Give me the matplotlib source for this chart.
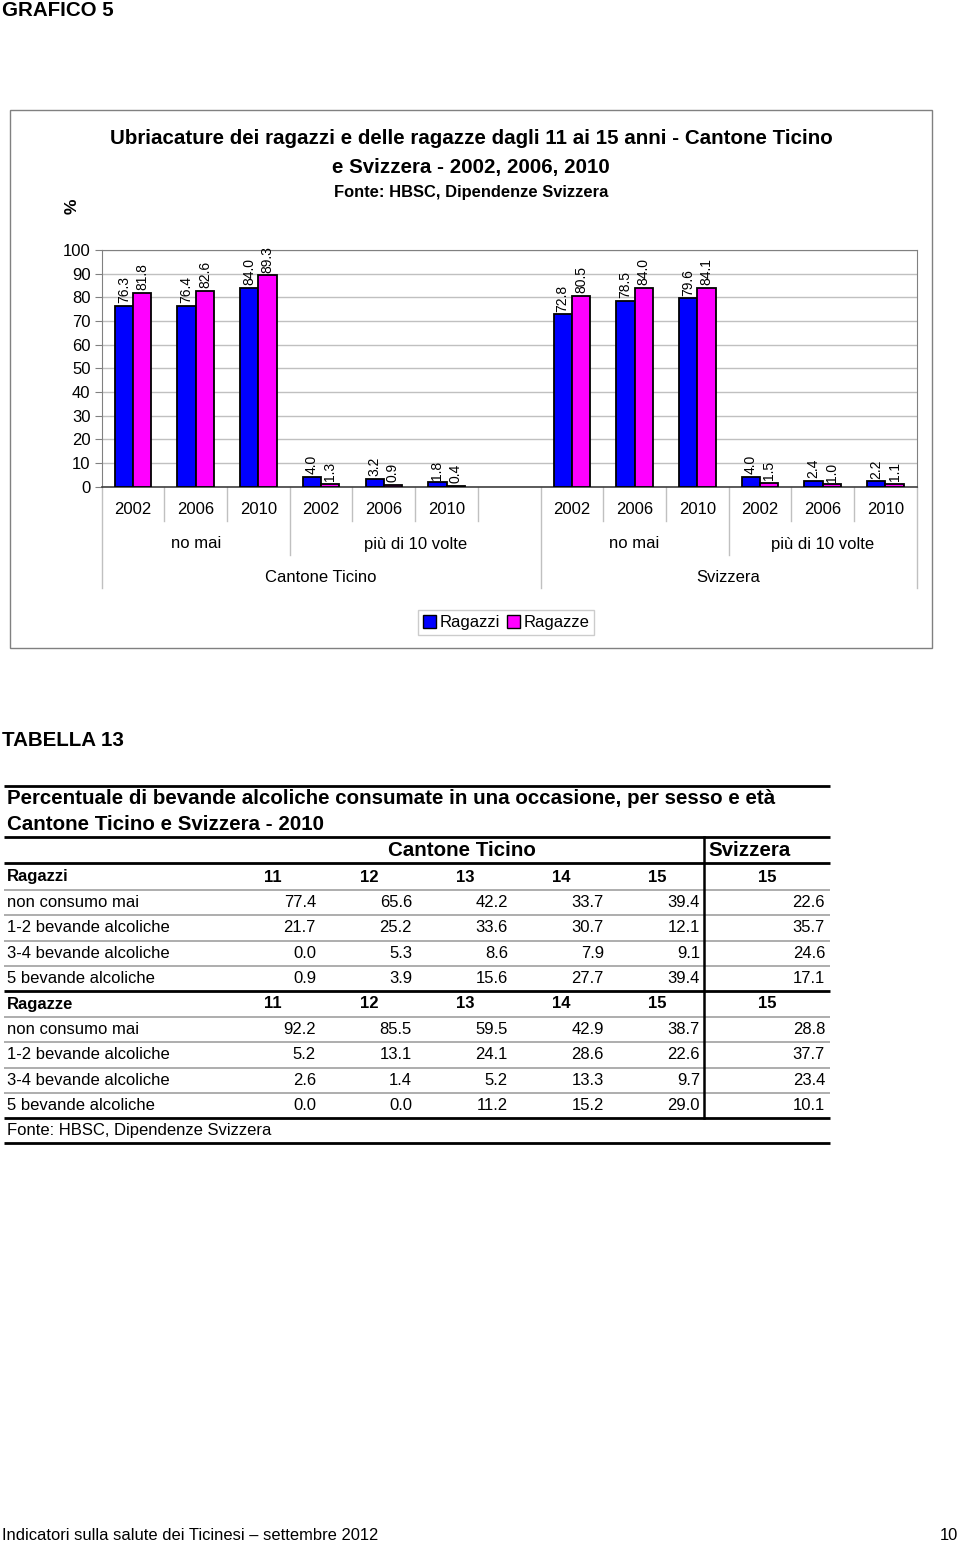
import numpy as np
import matplotlib
matplotlib.use('Agg')
import matplotlib.pyplot as plt
from matplotlib.patches import Rectangle, Patch
from matplotlib.lines import Line2D
import matplotlib.transforms as mtransforms

plt.rcParams['font.family'] = ['Liberation Sans', 'DejaVu Sans']

# dati del grafico
anni = ['2002', '2006', '2010']
frequenze = ['no mai', 'più di 10 volte']
regioni = ['Cantone Ticino', 'Svizzera']
ti_nomai_ragazzi = [76.3, 76.4, 84.0]
ti_nomai_ragazze = [81.8, 82.6, 89.3]
ti_piu10_ragazzi = [4.0, 3.2, 1.8]
ti_piu10_ragazze = [1.3, 0.9, 0.4]
ch_nomai_ragazzi = [72.8, 78.5, 79.6]
ch_nomai_ragazze = [80.5, 84.0, 84.1]
ch_piu10_ragazzi = [4.0, 2.4, 2.2]
ch_piu10_ragazze = [1.5, 1.0, 1.1]

# dati della tabella
eta = ['11', '12', '13', '14', '15']
eta_ch = '15'
righe = ['non consumo mai', '1-2 bevande alcoliche', '3-4 bevande alcoliche', '5 bevande alcoliche']
ragazzi_ti = [[77.4, 65.6, 42.2, 33.7, 39.4],
              [21.7, 25.2, 33.6, 30.7, 12.1],
              [0.0, 5.3, 8.6, 7.9, 9.1],
              [0.9, 3.9, 15.6, 27.7, 39.4]]
ragazzi_ch = [22.6, 35.7, 24.6, 17.1]
ragazze_ti = [[92.2, 85.5, 59.5, 42.9, 38.7],
              [5.2, 13.1, 24.1, 28.6, 22.6],
              [2.6, 1.4, 5.2, 13.3, 9.7],
              [0.0, 0.0, 11.2, 15.2, 29.0]]
ragazze_ch = [28.8, 37.7, 23.4, 10.1]

W, H = 960, 1543
fig = plt.figure(figsize=(W / 100, H / 100), dpi=100)

# livello pagina in pixel
page = fig.add_axes([0, 0, 1, 1])
page.set_xlim(0, W)
page.set_ylim(H, 0)
page.axis('off')

BLU = '#0000FF'
MAG = '#FF00FF'
GRIGIO = '#808080'
GRIGLIA = '#C0C0C0'
FS = 12

page.text(2, 11, 'GRAFICO 5', fontsize=14.8, fontweight='bold', va='center', ha='left')

# cornice del grafico
page.add_patch(Rectangle((10, 110), 922, 538, fill=False, edgecolor=GRIGIO, lw=1))
page.text(471, 139, 'Ubriacature dei ragazzi e delle ragazze dagli 11 ai 15 anni - Cantone Ticino',
          fontsize=14.8, fontweight='bold', ha='center', va='center')
page.text(471, 167, 'e Svizzera - 2002, 2006, 2010', fontsize=14.8, fontweight='bold', ha='center', va='center')
page.text(471, 192, 'Fonte: HBSC, Dipendenze Svizzera', fontsize=11.9, fontweight='bold', ha='center', va='center')
page.text(72, 206, '%', fontsize=12.5, fontweight='bold', rotation=90, ha='center', va='center')

# area del grafico
x0, x1, ytop, ybot = 101.7, 916.7, 250, 486.7
ax = fig.add_axes([x0 / W, 1 - ybot / H, (x1 - x0) / W, (ybot - ytop) / H])

ragazzi = ti_nomai_ragazzi + ti_piu10_ragazzi + ch_nomai_ragazzi + ch_piu10_ragazzi
ragazze = ti_nomai_ragazze + ti_piu10_ragazze + ch_nomai_ragazze + ch_piu10_ragazze
pos = np.array([0, 1, 2, 3, 4, 5, 7, 8, 9, 10, 11, 12])
bw = 0.292
ax.bar(pos - bw / 2, ragazzi, bw, color=BLU, edgecolor='black', lw=1.3, zorder=3)
ax.bar(pos + bw / 2, ragazze, bw, color=MAG, edgecolor='black', lw=1.3, zorder=3)
for p, a, b in zip(pos, ragazzi, ragazze):
    ax.annotate(f'{a:.1f}', (p - bw / 2, a), xytext=(0, 2), textcoords='offset points',
                rotation=90, ha='center', va='bottom', fontsize=10)
    ax.annotate(f'{b:.1f}', (p + bw / 2, b), xytext=(0, 2), textcoords='offset points',
                rotation=90, ha='center', va='bottom', fontsize=10)

ax.set_xlim(-0.5, 12.5)
ax.set_ylim(0, 100)
ax.set_yticks(np.arange(0, 101, 10))
ax.set_xticks([])
ax.yaxis.grid(True, color=GRIGLIA, lw=1, zorder=0)
ax.set_axisbelow(True)
ax.tick_params(axis='y', labelsize=FS, length=5, color=GRIGIO, pad=3)
for s in ['top', 'right', 'left']:
    ax.spines[s].set_color(GRIGIO)
ax.spines['bottom'].set_color('#404040')
ax.spines['bottom'].set_linewidth(1.2)

# etichette categorie multilivello
tr = mtransforms.blended_transform_factory(ax.transData, page.transData)
for i, p in enumerate(pos):
    ax.text(p, 510, anni[i % 3], transform=tr, ha='center', va='center', fontsize=FS, clip_on=False)
lab2 = [(1, frequenze[0]), (4.5, frequenze[1]), (8, frequenze[0]), (11, frequenze[1])]
for p, t in lab2:
    ax.text(p, 544, t, transform=tr, ha='center', va='center', fontsize=FS, clip_on=False)
for p, t in [(3, regioni[0]), (9.5, regioni[1])]:
    ax.text(p, 577, t, transform=tr, ha='center', va='center', fontsize=FS, clip_on=False)
for b in np.arange(-0.5, 13, 1.0):
    if b in (-0.5, 6.5, 12.5):
        yb = 588
    elif b in (2.5, 9.5):
        yb = 555
    else:
        yb = 521
    ax.add_line(Line2D([b, b], [ybot, yb], transform=tr, color=GRIGLIA, lw=1, clip_on=False))

handles = [Patch(facecolor=BLU, edgecolor='black'), Patch(facecolor=MAG, edgecolor='black')]
leg = fig.legend(handles, ['Ragazzi', 'Ragazze'], loc='center', bbox_to_anchor=(506 / W, 1 - 622.5 / H),
                 ncol=2, fontsize=FS, frameon=True, fancybox=False, edgecolor=GRIGLIA,
                 handlelength=0.8, handleheight=0.8, handletextpad=0.2, columnspacing=0.4,
                 borderpad=0.3, borderaxespad=0)
leg.get_frame().set_linewidth(1)

# tabella
page.text(2, 740, 'TABELLA 13', fontsize=14.8, fontweight='bold', va='center', ha='left')

TX0, TX1 = 4, 830
def linea(y, spessa=True, xa=TX0, xb=TX1):
    page.plot([xa, xb], [y, y], color='black' if spessa else '#A0A0A0',
              lw=2.0 if spessa else 1.2, solid_capstyle='butt')

linea(786)
page.text(7, 799, 'Percentuale di bevande alcoliche consumate in una occasione, per sesso e età',
          fontsize=14.8, fontweight='bold', va='center')
page.text(7, 824, 'Cantone Ticino e Svizzera - 2010', fontsize=14.8, fontweight='bold', va='center')
linea(837)
page.text(462, 850, 'Cantone Ticino', fontsize=14.8, fontweight='bold', ha='center', va='center')
page.text(708, 850, 'Svizzera', fontsize=14.8, fontweight='bold', ha='left', va='center')
linea(862.5)

col_c = [273, 369, 465, 561, 657]
col_r = [316, 412, 508, 604, 700]
ch_c, ch_r = 767, 825

def blocco(ytesta, titolo, dati_ti, dati_ch):
    page.text(7, ytesta, titolo, fontsize=FS, fontweight='bold', va='center')
    for c, e in zip(col_c, eta):
        page.text(c, ytesta, e, fontsize=FS, fontweight='bold', ha='center', va='center')
    page.text(ch_c, ytesta, eta_ch, fontsize=FS, fontweight='bold', ha='center', va='center')
    for k, (nome, vals, vch) in enumerate(zip(righe, dati_ti, dati_ch)):
        y = ytesta + 25.4 * (k + 1)
        linea(y - 12.7, spessa=False)
        page.text(7, y, nome, fontsize=FS, va='center')
        for r, v in zip(col_r, vals):
            page.text(r, y, f'{v:.1f}', fontsize=FS, ha='right', va='center')
        page.text(ch_r, y, f'{vch:.1f}', fontsize=FS, ha='right', va='center')

blocco(877, 'Ragazzi', ragazzi_ti, ragazzi_ch)
linea(991)
blocco(1004, 'Ragazze', ragazze_ti, ragazze_ch)
linea(1118)
page.plot([704, 704], [837, 1118], color='black', lw=1.8)
page.text(7, 1131, 'Fonte: HBSC, Dipendenze Svizzera', fontsize=FS, va='center')
linea(1143)

# pie di pagina
page.text(2, 1535, 'Indicatori sulla salute dei Ticinesi – settembre 2012', fontsize=11.9,
          va='center', ha='left')
page.text(958, 1535, '10', fontsize=11.9, va='center', ha='right')

fig.savefig('out.png', dpi=100)
